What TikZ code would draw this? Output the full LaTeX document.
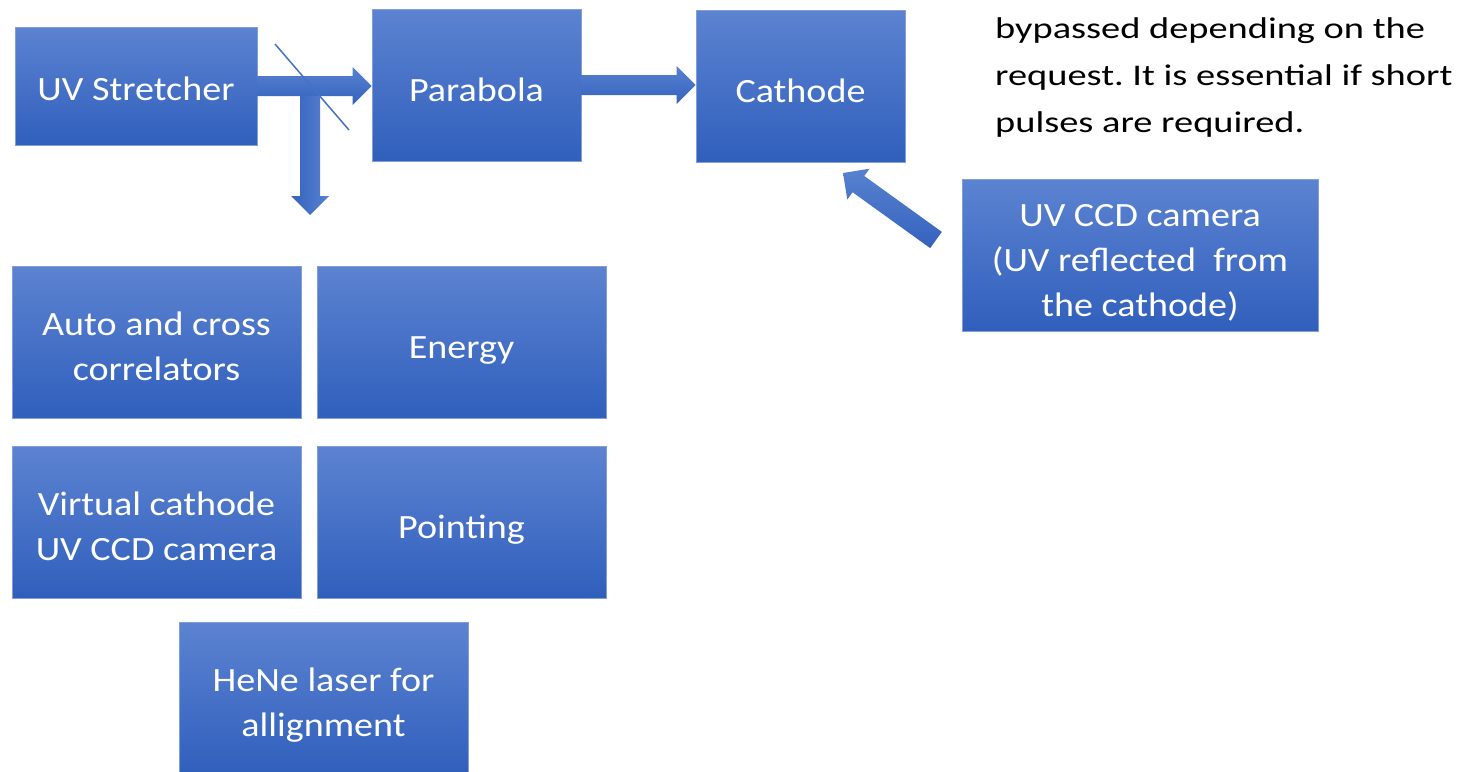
\documentclass[tikz,border=0pt]{standalone}
\usepackage{fontspec}
\setmainfont{Carlito}[FakeStretch=1.12]
\newfontfamily\notefont{Carlito}[FakeStretch=1.28]
\usetikzlibrary{calc}
\definecolor{boxtop}{RGB}{92,131,209}
\definecolor{boxbot}{RGB}{48,95,188}
\definecolor{boxedge}{RGB}{130,158,218}
\definecolor{arrlight}{RGB}{88,130,208}
\definecolor{arrdark}{RGB}{52,98,190}
\definecolor{linecol}{RGB}{68,114,196}
\newcommand{\blkarrow}[3][]{%
  \coordinate (hb) at ($(#3)!19pt!(#2)$);
  \shade[#1] ($(#2)!10pt!90:(#3)$) -- ($(hb)!10pt!90:(#3)$) -- ($(hb)!19pt!90:(#3)$)
    -- (#3) -- ($(hb)!19pt!-90:(#3)$) -- ($(hb)!10pt!-90:(#3)$) -- ($(#2)!10pt!-90:(#3)$) -- cycle;}
\newcommand{\topstrut}{\rule{0pt}{38pt}}
\frenchspacing
\begin{document}
\begin{tikzpicture}[x=1pt,y=-1pt,
  boxtopht/.store in=\boxtopht, boxtopht=38pt,
  box/.style={rectangle, inner sep=0pt, top color=boxtop, bottom color=boxbot,
    draw=boxedge, line width=0.8pt, text=white, align=center,
    font=\fontsize{34}{45}\selectfont,
    execute at begin node={\rule{0pt}{\boxtopht}},
    execute at end node={\rule[-6pt]{0pt}{6pt}}},
  harrow/.style={top color=arrlight, bottom color=arrdark},
  varrow/.style={left color=arrdark, right color=arrlight},
  darrow/.style={shading angle=35, top color=arrlight, bottom color=arrdark},
  splitter/.style={draw=linecol, line width=1.5pt}]
\useasboundingbox (0,0) rectangle (1461,771);
\node[box, boxtopht=34pt, minimum width=242pt, minimum height=118pt] (s) at (136,86) {UV Stretcher};
\node[box, minimum width=209pt, minimum height=152pt] (p) at (476.5,85) {Parabola};
\node[box, minimum width=209pt, minimum height=152pt] (k) at (800.5,86) {Cathode};
\node[box, minimum width=356pt, minimum height=152pt] (c) at (1140,255) {\topstrut UV CCD camera\\(UV reflected\ \ from\\the cathode)};
\node[box, minimum width=289pt, minimum height=152pt] (a) at (156.5,342) {\topstrut Auto and cross\\correlators};
\node[box, minimum width=289pt, minimum height=152pt] (e) at (461.5,342) {Energy};
\node[box, minimum width=289pt, minimum height=152pt] (v) at (156.5,522) {\topstrut Virtual cathode\\UV CCD camera};
\node[box, minimum width=289pt, minimum height=152pt] (pt) at (461.5,522) {Pointing};
\node[box, minimum width=289pt, minimum height=152pt] (h) at (323.5,698) {\topstrut HeNe laser for\\allignment};
\node[anchor=north west, inner sep=0pt, align=left, font=\notefont\fontsize{30}{47}\selectfont] (note) at (995,17)
  {bypassed depending on the\\request. It is essential if short\\pulses are required.};
% connectors
\coordinate (a1) at (s.east);
\coordinate (b1) at (p.west |- s.east);
\blkarrow[harrow]{a1}{b1}
\coordinate (a2) at (p.east);
\coordinate (b2) at (k.west |- p.east);
\blkarrow[harrow]{a2}{b2}
\coordinate (dt) at (310,96);
\coordinate (dtip) at (310,215);
\blkarrow[varrow]{dt}{dtip}
\coordinate (ct) at (936,240);
\coordinate (ctip) at (843,173);
\blkarrow[darrow]{ct}{ctip}
\coordinate (bs1) at (275,44);
\coordinate (bs2) at (349,130);
\draw[splitter] (bs1) -- (bs2);
\end{tikzpicture}
\end{document}
